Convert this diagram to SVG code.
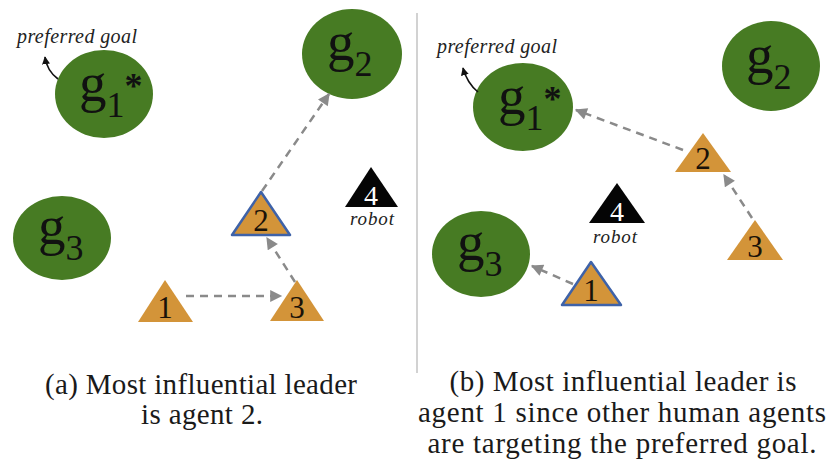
<svg xmlns="http://www.w3.org/2000/svg" width="829" height="467" viewBox="0 0 829 467">
  <style>
    .goal { fill: #477b23; }
    .gl { font-family: "Liberation Serif", "Times New Roman", serif; font-size: 55px; fill: #111; }
    .star { font-size: 36px; font-weight: bold; }
    .agent { fill: #d39439; }
    .lead { fill: #d39439; stroke: #3e62a8; stroke-width: 2.5; stroke-linejoin: round; }
    .robot { fill: #050505; }
    .num { font-family: "Liberation Serif", "Times New Roman", serif; font-size: 31px; fill: #1a1208; text-anchor: middle; }
    .rnum { font-family: "Liberation Serif", "Times New Roman", serif; font-size: 28px; fill: #ffffff; text-anchor: middle; }
    .note { font-family: "Liberation Serif", "Times New Roman", serif; font-style: italic; fill: #222; }
    .cap { font-family: "Liberation Serif", "Times New Roman", serif; font-size: 29px; fill: #1a1a1a; text-anchor: middle; }
    .move { fill: none; stroke: #8a8a8a; stroke-width: 2.5; stroke-dasharray: 8 6; marker-end: url(#head); }
    .pref { fill: none; stroke: #111; stroke-width: 1.6; marker-end: url(#small); }
  </style>
  <defs>
    <marker id="head" viewBox="0 0 10 10" refX="9" refY="5" markerWidth="13" markerHeight="12" markerUnits="userSpaceOnUse" orient="auto">
      <path d="M0,0 L10,5 L0,10 z" fill="#8a8a8a"/>
    </marker>
    <marker id="small" viewBox="0 0 10 10" refX="9" refY="5" markerWidth="8" markerHeight="8" markerUnits="userSpaceOnUse" orient="auto">
      <path d="M0,0 L10,5 L0,10 z" fill="#111"/>
    </marker>
  </defs>

  <rect width="829" height="467" fill="#ffffff"/>

  <!-- panel divider -->
  <line x1="417" y1="13" x2="417" y2="373" stroke="#d2d2d2" stroke-width="2"/>

  <!-- ===== panel (a) ===== -->
  <g id="a-g1">
    <ellipse class="goal" cx="104" cy="94" rx="49" ry="44"/>
    <text class="gl" x="79" y="101">g<tspan font-size="36" dy="16">1</tspan><tspan class="star" dx="0" dy="-19">*</tspan></text>
  </g>
  <g id="a-pref">
    <text class="note" x="17" y="43" font-size="20" textLength="120">preferred goal</text>
  </g>
  <g id="a-g2">
    <ellipse class="goal" cx="352" cy="54" rx="50" ry="45"/>
    <text class="gl" x="327" y="60">g<tspan font-size="36" dy="16">2</tspan></text>
  </g>
  <g id="a-g3">
    <ellipse class="goal" cx="62" cy="238" rx="49" ry="42"/>
    <text class="gl" x="38" y="244">g<tspan font-size="36" dy="16">3</tspan></text>
  </g>
  <g id="a-agent1">
    <polygon class="agent" points="165,280 193,322 138,322"/>
    <text class="num" x="165" y="318">1</text>
  </g>
  <g id="a-agent2">
    <polygon class="lead" points="261,192 290,235 232,235"/>
    <text class="num" x="261" y="231">2</text>
  </g>
  <g id="a-agent3">
    <polygon class="agent" points="297,280 324,321 270,321"/>
    <text class="num" x="297" y="318">3</text>
  </g>
  <g id="a-robot">
    <polygon class="robot" points="371,167 398,207 345,207"/>
    <text class="rnum" x="371" y="205">4</text>
    <text class="note" x="372" y="225" font-size="19" text-anchor="middle" textLength="44">robot</text>
  </g>

  <!-- ===== panel (b) ===== -->
  <g id="b-g1">
    <ellipse class="goal" cx="523" cy="107" rx="50" ry="44"/>
    <text class="gl" x="498" y="114">g<tspan font-size="36" dy="16">1</tspan><tspan class="star" dx="0" dy="-19">*</tspan></text>
  </g>
  <g id="b-pref">
    <text class="note" x="437" y="53" font-size="20" textLength="120">preferred goal</text>
  </g>
  <g id="b-g2">
    <ellipse class="goal" cx="771" cy="66" rx="49" ry="45"/>
    <text class="gl" x="746" y="73">g<tspan font-size="36" dy="16">2</tspan></text>
  </g>
  <g id="b-g3">
    <ellipse class="goal" cx="481" cy="254" rx="49" ry="43"/>
    <text class="gl" x="457" y="260">g<tspan font-size="36" dy="16">3</tspan></text>
  </g>
  <g id="b-agent1">
    <polygon class="lead" points="591,262 621,305 562,305"/>
    <text class="num" x="591" y="301">1</text>
  </g>
  <g id="b-agent2">
    <polygon class="agent" points="703,133 731,172 675,172"/>
    <text class="num" x="703" y="169">2</text>
  </g>
  <g id="b-agent3">
    <polygon class="agent" points="755,220 783,260 727,260"/>
    <text class="num" x="755" y="257">3</text>
  </g>
  <g id="b-robot">
    <polygon class="robot" points="617,183 645,223 589,223"/>
    <text class="rnum" x="617" y="221">4</text>
    <text class="note" x="615" y="243" font-size="19" text-anchor="middle" textLength="44">robot</text>
  </g>

  <!-- connectors -->
  <g id="connectors">
    <path class="move" d="M186,296 L281,296"/>
    <path class="move" d="M295,282 L267,238"/>
    <path class="move" d="M262,191 L329,94"/>
    <path class="move" d="M683,150 L576,110"/>
    <path class="move" d="M752,218 L724,175"/>
    <path class="move" d="M573,284 L532,266"/>
    <path class="pref" d="M58,79 Q47,71 45,57"/>
    <path class="pref" d="M478,92 Q467,83 463,68"/>
  </g>

  <!-- captions -->
  <g id="captions">
    <text class="cap" x="201" y="394" textLength="312">(a) Most influential leader</text>
    <text class="cap" x="202" y="424" textLength="122">is agent 2.</text>
    <text class="cap" x="623" y="391" textLength="347">(b) Most influential leader is</text>
    <text class="cap" x="622" y="422" textLength="408">agent 1 since other human agents</text>
    <text class="cap" x="622" y="453" textLength="389">are targeting the preferred goal.</text>
  </g>
</svg>
